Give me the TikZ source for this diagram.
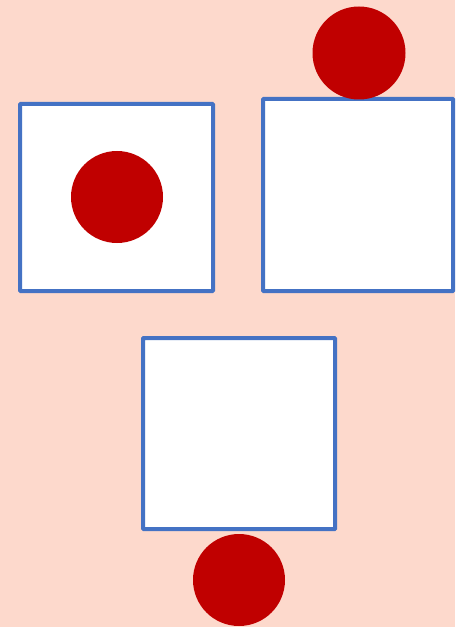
\documentclass[tikz,border=0pt]{standalone}
\usepackage{xcolor}
\definecolor{bgpink}{HTML}{FDD9CC}
\definecolor{boxblue}{HTML}{4472C4}
\definecolor{ballred}{HTML}{C00000}

\begin{document}
\begin{tikzpicture}[
    x=0.03cm, y=-0.03cm,
    box/.style={draw=boxblue, fill=white, line width=0.12cm, rounded corners=0.5pt},
    ball/.style={fill=ballred},
]

% Canvas
\fill[bgpink] (0,0) rectangle (455,627);
\useasboundingbox (0,0) rectangle (455,627);

% Boxes
\draw[box] (20,104) rectangle (213,291);
\draw[box] (263,99) rectangle (453,291);
\draw[box] (143,338) rectangle (335,529);

% Balls: inside, above, below
\fill[ball] (117,197) circle (46);
\fill[ball] (359,53) circle (46.5);
\fill[ball] (239,580) circle (46);

\end{tikzpicture}
\end{document}
